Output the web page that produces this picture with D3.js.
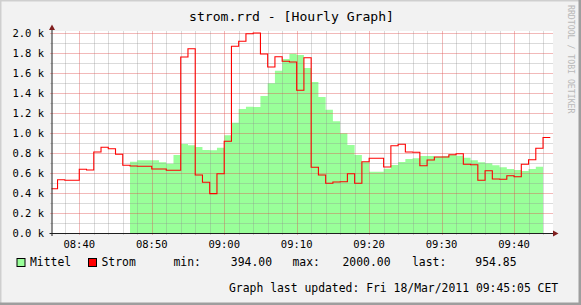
<!DOCTYPE html>
<html lang="en">
<head>
<meta charset="UTF-8">
<title>strom.rrd - Hourly Graph</title>
<script src="https://d3js.org/d3.v7.min.js"></script>
<style>
  body { margin: 0; background: #f2f2f2; }
  svg { display: block; font-family: "DejaVu Sans Mono", monospace; }
</style>
</head>
<body>
<script>
// data: one value per minute (value covers [t, t+1min))
const stromStart = "08:36";
const strom = [443, 533, 527, 527, 637, 630, 810, 857, 843, 787,
  677, 670, 667, 667, 640, 640, 627, 627, 1760, 1843,
  580, 507, 394, 593, 917, 1867, 1917, 1993, 2000, 1790,
  1660, 1763, 1717, 1710, 1427, 1753, 657, 580, 497, 510,
  513, 593, 497, 713, 747, 747, 660, 873, 887, 810,
  807, 673, 730, 760, 760, 783, 793, 687, 683, 527,
  623, 540, 537, 573, 563, 687, 733, 847, 955];

const mittelStart = "08:47";
const mittel = [713, 727, 727, 727, 707, 693, 780, 890, 877, 860,
  830, 827, 853, 977, 1103, 1240, 1263, 1260, 1370, 1497,
  1623, 1740, 1793, 1780, 1650, 1510, 1360, 1233, 1117, 997,
  880, 780, 710, 613, 613, 643, 680, 710, 740, 747,
  770, 770, 763, 767, 783, 773, 753, 727, 707, 697,
  677, 657, 640, 630, 620, 640, 663];

const timeRange = ["08:36:10", "09:45:10"];
const yTicks = [0, 200, 400, 600, 800, 1000, 1200, 1400, 1600, 1800, 2000];
const legendStats = [["min:", "394.00"], ["max:", "2000.00"], ["last:", "954.85"]];
const title = "strom.rrd - [Hourly Graph]";
const updated = "Graph last updated: Fri 18/Mar/2011 09:45:05 CET";

const W = 581, H = 305;
const pL = 51.5, pR = 551.5, canvasR = 553, pT = 33, pB = 233;

const parseT = s => {
  const p = s.split(":").map(Number);
  return new Date(Date.UTC(2011, 2, 18, p[0], p[1], p[2] || 0));
};
const series = (start, vals) => {
  const t0 = parseT(start);
  const pts = vals.map((v, i) => ({ t: new Date(+t0 + i * 60000), v }));
  pts.push({ t: new Date(+t0 + vals.length * 60000), v: vals[vals.length - 1] });
  return pts;
};

const x = d3.scaleUtc().domain(timeRange.map(parseT)).range([pL, pR]);
const y = d3.scaleLinear().domain([0, 2000]).range([pB, pT]);

const svg = d3.select("body").append("svg").attr("width", W).attr("height", H);

// background + 3d frame
svg.append("rect").attr("width", W).attr("height", H).attr("fill", "#f2f2f2");
svg.append("path").attr("d", `M0,${H}V0H${W}`).attr("fill", "none").attr("stroke", "#cfcfcf").attr("stroke-width", 3);
svg.append("path").attr("d", `M0,${H - 1}H${W - 1}V0`).attr("fill", "none").attr("stroke", "#9e9e9e").attr("stroke-width", 3);

// canvas
svg.append("rect").attr("x", pL).attr("y", pT - 2).attr("width", canvasR - pL).attr("height", pB - pT + 2).attr("fill", "#fff");

svg.append("defs").append("clipPath").attr("id", "plot")
  .append("rect").attr("x", pL).attr("y", pT - 3).attr("width", pR - pL).attr("height", pB - pT + 3);

// mittel area
svg.append("path")
  .datum(series(mittelStart, mittel))
  .attr("clip-path", "url(#plot)")
  .attr("fill", "#99ff99")
  .attr("d", d3.area().curve(d3.curveStepAfter).x(d => x(d.t)).y0(y(0)).y1(d => y(d.v)));

// grid
const grid = svg.append("g").attr("shape-rendering", "crispEdges");
const minorX = x.ticks(d3.utcMinute.every(2));
const majorX = x.ticks(d3.utcMinute.every(10));
const isMajorX = t => t.getUTCMinutes() % 10 === 0;
grid.selectAll(".vx").data(minorX).join("line")
  .attr("x1", d => Math.round(x(d)) + 0.5).attr("x2", d => Math.round(x(d)) + 0.5)
  .attr("y1", pT - 2).attr("y2", pB + 2)
  .attr("stroke", d => isMajorX(d) ? "rgba(222,79,79,0.4)" : "rgba(143,143,143,0.32)");
const hy = d3.range(0, 2001, 100);
grid.selectAll(".hy").data(hy).join("line")
  .attr("x1", pL - 2).attr("x2", canvasR)
  .attr("y1", d => Math.round(y(d)) + 0.5).attr("y2", d => Math.round(y(d)) + 0.5)
  .attr("stroke", d => d % 200 === 0 ? "rgba(222,79,79,0.4)" : "rgba(143,143,143,0.32)");

// strom line
svg.append("path")
  .datum(series(stromStart, strom))
  .attr("clip-path", "url(#plot)")
  .attr("fill", "none").attr("stroke", "#ff0000").attr("stroke-width", 1.1)
  .attr("d", d3.line().curve(d3.curveStepAfter).x(d => x(d.t)).y(d => y(d.v)));

// axes
const axisCol = "#1f1f1f", arrowCol = "#801f1f";
svg.append("line").attr("x1", pL - 2).attr("x2", canvasR + 1).attr("y1", pB + 0.5).attr("y2", pB + 0.5)
  .attr("stroke", axisCol);
svg.append("line").attr("x1", pL + 0.5).attr("x2", pL + 0.5).attr("y1", pT - 4).attr("y2", pB + 3)
  .attr("stroke", axisCol);
svg.append("path").attr("d", `M${canvasR},${pB - 2.5}L${canvasR + 5.5},${pB + 0.5}L${canvasR},${pB + 3.5}Z`).attr("fill", arrowCol);
svg.append("path").attr("d", `M${pL - 2.5},${pT - 3}L${pL + 0.5},${pT - 8.5}L${pL + 3.5},${pT - 3}Z`).attr("fill", arrowCol);

// tick labels
svg.append("g").selectAll("text").data(yTicks).join("text")
  .attr("x", 44).attr("y", d => y(d)).attr("dy", "0.36em")
  .attr("text-anchor", "end").attr("font-size", 10.5).attr("fill", "#000")
  .text(d => (d / 1000).toFixed(1) + " k");
svg.append("g").selectAll("text").data(majorX).join("text")
  .attr("x", d => x(d)).attr("y", 248)
  .attr("text-anchor", "middle").attr("font-size", 10.5).attr("fill", "#000")
  .text(d3.utcFormat("%H:%M"));

// title + watermark
svg.append("text").attr("x", 291.5).attr("y", 20.5).attr("text-anchor", "middle")
  .attr("font-size", 13.1).attr("fill", "#000").text(title);
svg.append("text").attr("transform", "translate(568,5) rotate(90)")
  .attr("font-size", 8.2).attr("fill", "#b8b8b8").text("RRDTOOL / TOBI OETIKER");

// legend
const lg = svg.append("g").attr("font-size", 11.4).attr("fill", "#000");
[["Mittel", "#99ff99", 16.5], ["Strom", "#ff0000", 88]].forEach(([name, col, bx]) => {
  lg.append("rect").attr("x", bx + 0.5).attr("y", 258.5).attr("width", 8).attr("height", 8)
    .attr("fill", col).attr("stroke", "#000");
  lg.append("text").attr("x", bx + 13.5).attr("y", 266).text(name);
});
const statX = [[173.5, 272], [292.5, 390.5], [412, 516.5]];
legendStats.forEach(([lab, val], i) => {
  lg.append("text").attr("x", statX[i][0]).attr("y", 266).text(lab);
  lg.append("text").attr("x", statX[i][1]).attr("y", 266).attr("text-anchor", "end").text(val);
});
lg.append("text").attr("x", 229).attr("y", 291.5).text(updated);
</script>
</body>
</html>
